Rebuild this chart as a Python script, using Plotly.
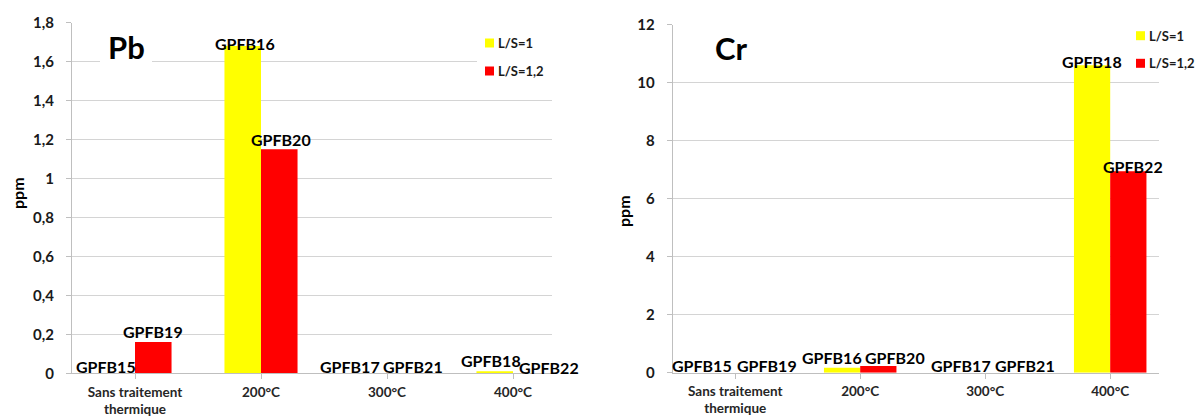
import plotly.graph_objects as go

# ---------------- data ----------------
categories = ["Sans traitement<br>thermique", "200°C", "300°C", "400°C"]
series_names = ["L/S=1", "L/S=1,2"]
series_colors = ["#FFFF00", "#FF0000"]

pb_ls1 = [0.0, 1.68, 0.0, 0.01]
pb_ls12 = [0.16, 1.15, 0.0, 0.0]
cr_ls1 = [0.0, 0.17, 0.0, 10.6]
cr_ls12 = [0.0, 0.23, 0.0, 6.95]

labels_ls1 = ["GPFB15", "GPFB16", "GPFB17", "GPFB18"]
labels_ls12 = ["GPFB19", "GPFB20", "GPFB21", "GPFB22"]

pb_ticks = [0, 0.2, 0.4, 0.6, 0.8, 1.0, 1.2, 1.4, 1.6, 1.8]
cr_ticks = [0, 2, 4, 6, 8, 10, 12]

# label nudges (px) to mimic the original label placement: (dx, dy)
pb_nudge_ls1 = [(-11, 7), (2, 2), (-19, 7), (-4, 11)]
pb_nudge_ls12 = [(0, 11), (2, 10), (8, 7), (18, 6)]
cr_nudge_ls1 = [(-15, 7), (-10, 10), (-6, 7), (0, 4)]
cr_nudge_ls12 = [(14, 7), (17, 9), (22, 7), (5, 5)]

W, H = 1198, 416
FONT = "Lato"
TXT = "#1a1a1a"
GRID = "#d4d4d4"


def px(x):
    return x / W


def py(y):
    return 1 - y / H


fig = go.Figure()

BARGAP = 0.42
half = (1 - BARGAP) / 4  # offset of each bar centre from category centre

for xa, ya, vals1, vals2 in [("x", "y", pb_ls1, pb_ls12), ("x2", "y2", cr_ls1, cr_ls12)]:
    for name, col, vals in zip(series_names, series_colors, [vals1, vals2]):
        fig.add_trace(go.Bar(
            x=list(range(len(categories))), y=vals, name=name,
            marker=dict(color=col, line=dict(width=0)),
            xaxis=xa, yaxis=ya, showlegend=False, hoverinfo="skip",
        ))

annotations = []
for xa, ya, vals_pair, nudge_pair in [
    ("x", "y", (pb_ls1, pb_ls12), (pb_nudge_ls1, pb_nudge_ls12)),
    ("x2", "y2", (cr_ls1, cr_ls12), (cr_nudge_ls1, cr_nudge_ls12)),
]:
    for k, (vals, labs, nud) in enumerate(zip(vals_pair, (labels_ls1, labels_ls12), nudge_pair)):
        off = -half if k == 0 else half
        for i, (v, lab, (dx, dy)) in enumerate(zip(vals, labs, nud)):
            annotations.append(dict(
                x=i + off, y=v, xref=xa, yref=ya, text=lab, showarrow=False,
                xanchor="center", yanchor="middle", xshift=dx, yshift=dy,
                font=dict(family=FONT, size=16, color="#000000", weight="bold"),
            ))

axis_common = dict(showline=True, linecolor="#bfbfbf", linewidth=1, automargin=False)

xaxis_common = dict(
    **axis_common,
    tickmode="array", tickvals=list(range(len(categories))), ticktext=categories,
    range=[-0.5, len(categories) - 0.5],
    ticks="outside", ticklen=5, tickcolor="#bfbfbf", showgrid=False, zeroline=False,
    tickfont=dict(family=FONT, size=13.5, color="#262626", weight="bold"),
    ticklabelstandoff=1,
)
yaxis_common = dict(
    **axis_common,
    ticks="outside", ticklen=5, tickcolor="#bfbfbf",
    showgrid=True, gridcolor=GRID, gridwidth=1, zeroline=False,
    tickfont=dict(family=FONT, size=15, color=TXT, weight="bold"),
    ticklabelstandoff=9,
)

fig.update_layout(
    width=W, height=H,
    margin=dict(l=0, r=0, t=0, b=0, pad=0, autoexpand=False),
    paper_bgcolor="white", plot_bgcolor="white",
    barmode="group", bargap=BARGAP, bargroupgap=0,
    separators=", ",
    xaxis=dict(domain=[px(72), px(576)], anchor="y", **xaxis_common),
    yaxis=dict(domain=[py(373.3), py(22.5)], anchor="x", range=[0, 1.8],
               tickmode="array", tickvals=pb_ticks, **yaxis_common),
    xaxis2=dict(domain=[px(672.7), px(1172.7)], anchor="y2", **xaxis_common),
    yaxis2=dict(domain=[py(372.7), py(24.7)], anchor="x2", range=[0, 12],
                tickmode="array", tickvals=cr_ticks, **yaxis_common),
    showlegend=False,
)

shapes = []


def white_box(x0, y0, x1, y1):
    shapes.append(dict(type="rect", xref="paper", yref="paper",
                       x0=px(x0), x1=px(x1), y0=py(y1), y1=py(y0),
                       fillcolor="white", line=dict(width=0), layer="above"))


# boxes behind titles / legends / right edge crop
white_box(100, 15, 152, 68)
white_box(707, 15, 753, 75)
white_box(477, 25, 552, 90)
white_box(1130, 8, 1198, 78)
white_box(552, 0, 600, 385)
white_box(1159, 78, 1198, 385)

# legends (swatch + text) for each panel
for (sx, sy_list) in [(485, [43, 71]), (1136, [35.7, 63.3])]:
    for name, col, sy in zip(series_names, series_colors, sy_list):
        shapes.append(dict(type="rect", xref="paper", yref="paper",
                           x0=px(sx), x1=px(sx + 9), y0=py(sy + 4.5), y1=py(sy - 4.5),
                           fillcolor=col, line=dict(width=0), layer="above"))
        annotations.append(dict(x=px(sx + 11), y=py(sy), xref="paper", yref="paper",
                                text=name, showarrow=False, xanchor="left", yanchor="middle",
                                font=dict(family=FONT, size=13, color=TXT, weight="bold")))

# panel titles
annotations.append(dict(x=px(126.5), y=py(47), xref="paper", yref="paper", text="Pb",
                        showarrow=False, xanchor="center", yanchor="middle",
                        font=dict(family=FONT, size=31, color="#000000", weight="bold")))
annotations.append(dict(x=px(730.5), y=py(48), xref="paper", yref="paper", text="Cr",
                        showarrow=False, xanchor="center", yanchor="middle",
                        font=dict(family=FONT, size=31, color="#000000", weight="bold")))

# y axis titles
annotations.append(dict(x=px(17), y=py(193), xref="paper", yref="paper", text="ppm",
                        showarrow=False, textangle=-90, xanchor="center", yanchor="middle",
                        font=dict(family=FONT, size=16, color="#000000", weight="bold")))
annotations.append(dict(x=px(623), y=py(211), xref="paper", yref="paper", text="ppm",
                        showarrow=False, textangle=-90, xanchor="center", yanchor="middle",
                        font=dict(family=FONT, size=16, color="#000000", weight="bold")))

fig.update_layout(shapes=shapes, annotations=annotations)

fig.write_html(
    "out.html",
    config={"displayModeBar": False},
    post_script="document.body.style.margin='0';document.body.style.overflow='hidden';",
)
